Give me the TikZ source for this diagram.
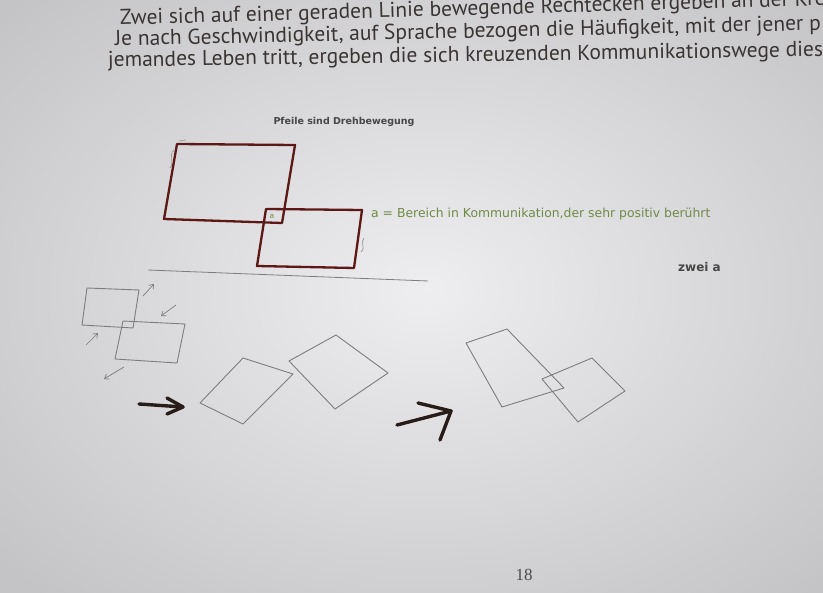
\documentclass[tikz,border=0pt]{standalone}
\usepackage{fontspec}
\setmainfont{DejaVu Sans}
\newfontfamily\bookfont{PT Sans}
\newfontfamily\numfont{Liberation Serif}
\usetikzlibrary{arrows.meta}
\definecolor{paperlight}{RGB}{238,238,240}
\definecolor{paperdark}{RGB}{196,196,199}
\definecolor{bodytext}{RGB}{58,52,50}
\definecolor{boxred}{RGB}{92,24,22}
\definecolor{sketch}{RGB}{125,125,128}
\definecolor{greenlab}{RGB}{112,138,72}
\definecolor{marker}{RGB}{40,28,24}
\tikzset{
  bookline/.style={anchor=base west, inner sep=0pt, text=bodytext, font=\bookfont\fontsize{21.5}{21}\selectfont},
  bigbox/.style={draw=boxred, line width=2.3pt, line join=round},
  thinbox/.style={draw=sketch, line width=0.9pt, line join=round},
  smallarrow/.style={draw=sketch, line width=0.7pt, -{Straight Barb[length=4pt,width=6pt]}},
  rotmark/.style={draw=sketch!80, line width=0.7pt},
  markerarrow/.style={draw=marker, line width=3.4pt, line cap=round, line join=round},
  lab/.style={inner sep=0pt, font=\fontsize{9.5}{10}\selectfont\bfseries, text=black!72}
}
\begin{document}
\begin{tikzpicture}[x=1pt,y=-1pt]
\useasboundingbox (0,0) rectangle (823,593);
\begin{scope}
\clip (0,0) rectangle (823,593);
\shade[inner color=paperlight, outer color=paperdark] (-150,-120) rectangle (1000,700);
% book text
\node[bookline, rotate=1.6] (l1) at (120,25) {Zwei sich auf einer geraden Linie bewegende Rechtecken ergeben an der Kre};
\node[bookline, rotate=1.3] (l2) at (115,46) {Je nach Geschwindigkeit, auf Sprache bezogen die Häufigkeit, mit der jener p};
\node[bookline, rotate=0.85] (l3) at (108,67) {jemandes Leben tritt, ergeben die sich kreuzenden Kommunikationswege dies};
% caption
\node[lab] (cap) at (344,122) {Pfeile sind Drehbewegung};
% big rectangles
\draw[bigbox] (177,144) -- (295,145) -- (282,223) -- (164,219) -- cycle;
\draw[bigbox] (266,209) -- (362,210) -- (354,268) -- (257,266) -- cycle;
\node[inner sep=0pt, font=\fontsize{7.5}{8}\selectfont, text=greenlab] (a) at (272,216) {a};
% rotation marks
\draw[rotmark] (174,150) .. controls (168,155) and (175,162) .. (170,168);
\draw[rotmark] (179,141) -- (186,140);
\draw[rotmark] (364,238) .. controls (360,243) and (366,247) .. (361,252);
\node[inner sep=0pt, anchor=west, font=\fontsize{12.4}{13}\selectfont, text=greenlab] (def) at (371,214) {a = Bereich in Kommunikation,der sehr positiv berührt};
\node[lab, anchor=east, font=\fontsize{12}{12}\selectfont\bfseries] (zwei) at (721,267) {zwei a};
% separating line
\coordinate (h1) at (148,270);
\coordinate (h2) at (428,281);
\draw[draw=sketch, line width=0.8pt] (h1) -- (h2);
% small sketch
\draw[thinbox] (87,288) -- (139,290) -- (133,328) -- (82,325) -- cycle;
\draw[thinbox] (123,321) -- (185,324) -- (177,363) -- (115,359) -- cycle;
\coordinate (s1a) at (143,296); \coordinate (s1b) at (154,284);
\coordinate (s2a) at (176,305); \coordinate (s2b) at (161,316);
\coordinate (s3a) at (86,345);  \coordinate (s3b) at (98,333);
\coordinate (s4a) at (124,367); \coordinate (s4b) at (104,379);
\draw[smallarrow] (s1a) -- (s1b);
\draw[smallarrow] (s2a) -- (s2b);
\draw[smallarrow] (s3a) -- (s3b);
\draw[smallarrow] (s4a) -- (s4b);
% marker arrow 1
\coordinate (m1a) at (139,404);
\coordinate (m1b) at (183,407);
\draw[markerarrow] (m1a) -- (m1b);
\draw[markerarrow] (167,398) -- (m1b) -- (167,414);
% rotated rectangles
\draw[thinbox] (243,358) -- (293,374) -- (243,424) -- (200,403) -- cycle;
\draw[thinbox] (336,335) -- (388,373) -- (335,409) -- (289,361) -- cycle;
% marker arrow 2
\coordinate (m2a) at (397,425);
\coordinate (m2b) at (451,411);
\draw[markerarrow] (m2a) -- (m2b);
\draw[markerarrow] (418,403) -- (m2b) -- (440,440);
% overlapping rotated rectangles
\draw[thinbox] (466,343) -- (507,329) -- (564,388) -- (502,407) -- cycle;
\draw[thinbox] (592,358) -- (625,391) -- (578,422) -- (542,379) -- cycle;
% page number
\node[inner sep=0pt, font=\numfont\fontsize{17}{17}\selectfont, text=black!70] (pg) at (524,575) {18};
\end{scope}
\end{tikzpicture}
\end{document}
